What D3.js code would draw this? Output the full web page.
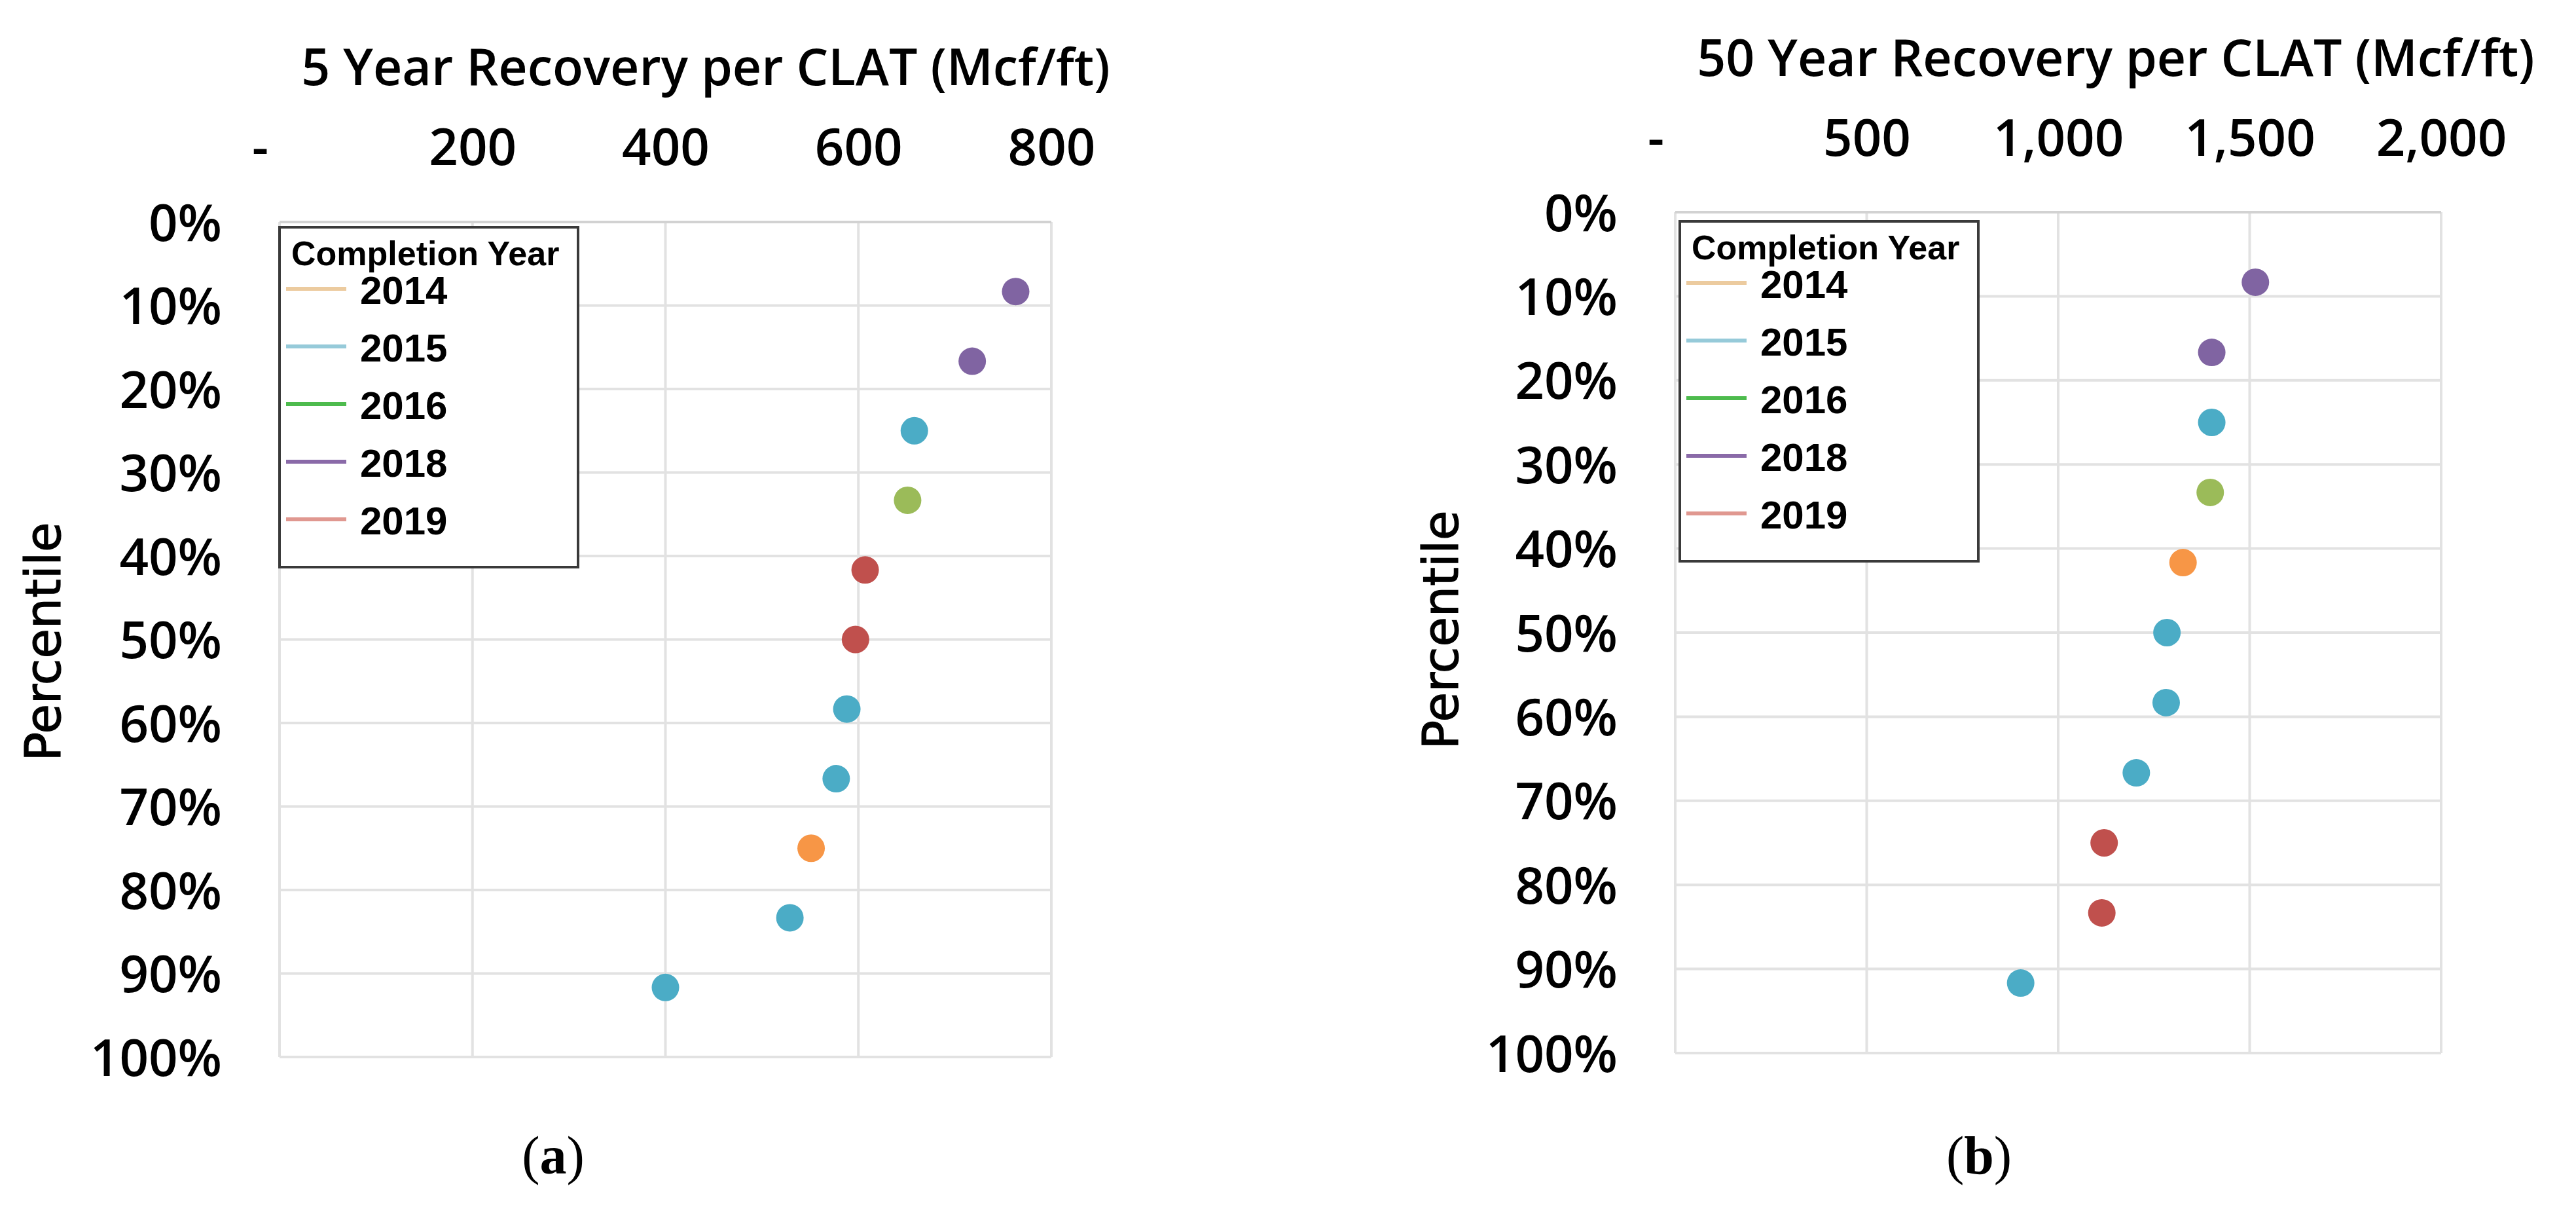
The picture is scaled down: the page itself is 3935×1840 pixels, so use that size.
<!DOCTYPE html>
<html>
<head>
<meta charset="utf-8">
<script src="https://cdn.jsdelivr.net/npm/d3@7"></script>
<style>
  body { margin: 0; background: #fff; }
  svg { display: block; }
</style>
</head>
<body>
<div id="chart"></div>
<script>
// percentile of each well (top axis reads recovery, left axis reads percentile)
const percentiles = [8.33, 16.67, 25, 33.33, 41.67, 50, 58.33, 66.67, 75, 83.33, 91.67];

const years5 = [2018, 2018, 2015, 2016, 2019, 2019, 2015, 2015, 2014, 2015, 2015];
const recovery5 = [763, 718, 658, 651, 607, 597, 588, 577, 551, 529, 400];

const years50 = [2018, 2018, 2015, 2016, 2014, 2015, 2015, 2015, 2019, 2019, 2015];
const recovery50 = [1515, 1401, 1401, 1397, 1326, 1284, 1282, 1204, 1120, 1114, 902];

const legendYears = [2014, 2015, 2016, 2018, 2019];
const xTicks5 = [0, 200, 400, 600, 800];
const xTicks50 = [0, 500, 1000, 1500, 2000];
const yTicks = [0, 10, 20, 30, 40, 50, 60, 70, 80, 90, 100];

const dotColor = {2014: "#f79646", 2015: "#4bacc6", 2016: "#9bbb59", 2018: "#8064a2", 2019: "#c0504d"};
const lineColor = {2014: "#eccb9f", 2015: "#96cad9", 2016: "#4dbb4d", 2018: "#8a6aa8", 2019: "#e09890"};

const W = 3935, H = 1840;

const svg = d3.select("#chart")
  .append("svg")
  .attr("width", W)
  .attr("height", H);

svg.append("rect").attr("width", W).attr("height", H).attr("fill", "#fff");

function drawPanel(p) {
  const g = svg.append("g");

  const x = d3.scaleLinear().domain(p.xDomain).range([p.left, p.right]);
  const y = d3.scaleLinear().domain([0, 100]).range([p.top, p.bottom]);

  // grid
  g.append("g").selectAll("line.v")
    .data(p.xTicks)
    .enter()
    .append("line")
    .attr("x1", d => x(d)).attr("x2", d => x(d))
    .attr("y1", p.top).attr("y2", p.bottom)
    .attr("stroke", "#e2e2e2")
    .attr("stroke-width", 4);

  g.append("g").selectAll("line.h")
    .data(yTicks)
    .enter()
    .append("line")
    .attr("x1", p.left).attr("x2", p.right)
    .attr("y1", d => y(d)).attr("y2", d => y(d))
    .attr("stroke", d => d === 0 ? "#d2d2d2" : "#e2e2e2")
    .attr("stroke-width", 4);

  // axes (labels only)
  const xAxis = d3.axisTop(x)
    .tickValues(p.xTicks)
    .tickSize(0)
    .tickPadding(p.xPad)
    .tickFormat(d => d === 0 ? "-" : d3.format(",")(d));

  const gx = g.append("g")
    .attr("transform", `translate(0, ${p.top})`)
    .call(xAxis);
  gx.select(".domain").remove();
  gx.selectAll("text")
    .attr("font-family", "'Open Sans', sans-serif")
    .attr("font-weight", 600)
    .attr("font-size", 78)
    .attr("fill", "#000")
    .attr("dx", d => d === 0 ? -30 : 0);

  const yAxis = d3.axisLeft(y)
    .tickValues(yTicks)
    .tickSize(0)
    .tickPadding(88)
    .tickFormat(d => d + "%");

  const gy = g.append("g")
    .attr("transform", `translate(${p.left}, 0)`)
    .call(yAxis);
  gy.select(".domain").remove();
  gy.selectAll("text")
    .attr("font-family", "'Open Sans', sans-serif")
    .attr("font-weight", 600)
    .attr("font-size", 78)
    .attr("fill", "#000")
    .attr("dy", "0.36em");

  // axis titles
  g.append("text")
    .attr("x", p.titleX)
    .attr("y", p.titleY)
    .attr("text-anchor", "middle")
    .attr("font-family", "'Open Sans', sans-serif")
    .attr("font-weight", 600)
    .attr("font-size", 77)
    .attr("fill", "#000")
    .text(p.title);

  g.append("text")
    .attr("transform", `translate(${p.yTitleX}, ${p.yTitleY}) rotate(-90)`)
    .attr("text-anchor", "middle")
    .attr("font-family", "'DejaVu Sans', sans-serif")
    .attr("font-size", 74)
    .attr("fill", "#000")
    .attr("stroke", "#000")
    .attr("stroke-width", 1.2)
    .text("Percentile");

  // points
  const pts = p.values.map((v, i) => ({v: v, pct: percentiles[i], year: p.years[i]}));
  g.append("g").selectAll("circle")
    .data(pts)
    .enter()
    .append("circle")
    .attr("cx", d => x(d.v))
    .attr("cy", d => y(d.pct))
    .attr("r", 21)
    .attr("fill", d => dotColor[d.year]);

  // legend
  const lg = g.append("g")
    .attr("transform", `translate(${p.left + p.legendDx}, ${p.top + p.legendDy})`);

  lg.append("rect")
    .attr("width", 456)
    .attr("height", 519)
    .attr("fill", "#fff")
    .attr("stroke", "#3a3a3a")
    .attr("stroke-width", 4);

  lg.append("text")
    .attr("x", 18)
    .attr("y", 58)
    .attr("font-family", "'Liberation Sans', Arial, sans-serif")
    .attr("font-weight", "bold")
    .attr("font-size", 52)
    .attr("fill", "#000")
    .text("Completion Year");

  const items = lg.selectAll("g.item")
    .data(legendYears)
    .enter()
    .append("g")
    .attr("transform", (d, i) => `translate(0, ${117 + i * 88})`);

  items.append("line")
    .attr("x1", 10).attr("x2", 102)
    .attr("y1", -23).attr("y2", -23)
    .attr("stroke", d => lineColor[d])
    .attr("stroke-width", 6);

  items.append("text")
    .attr("x", 123)
    .attr("y", 0)
    .attr("font-family", "'Liberation Sans', Arial, sans-serif")
    .attr("font-weight", "bold")
    .attr("font-size", 60)
    .attr("fill", "#000")
    .text(d => d);

  // caption
  const cap = g.append("text")
    .attr("x", p.capX)
    .attr("y", 1792)
    .attr("text-anchor", "middle")
    .attr("font-family", "'Liberation Serif', 'Times New Roman', serif")
    .attr("font-size", 82)
    .attr("fill", "#000");
  cap.append("tspan").text("(");
  cap.append("tspan").attr("font-weight", "bold").text(p.capLetter);
  cap.append("tspan").text(")");
}

drawPanel({
  left: 427, right: 1606, top: 339, bottom: 1614,
  xDomain: [0, 800], xTicks: xTicks5, xPad: 87,
  values: recovery5, years: years5,
  title: "5 Year Recovery per CLAT (Mcf/ft)", titleX: 1078, titleY: 130,
  yTitleX: 92, yTitleY: 980,
  legendDx: 0, legendDy: 8,
  capX: 845, capLetter: "a"
});

drawPanel({
  left: 2559, right: 3729, top: 324, bottom: 1608,
  xDomain: [0, 2000], xTicks: xTicks50, xPad: 86,
  values: recovery50, years: years50,
  title: "50 Year Recovery per CLAT (Mcf/ft)", titleX: 3232, titleY: 116,
  yTitleX: 2227, yTitleY: 962,
  legendDx: 7, legendDy: 14,
  capX: 3023, capLetter: "b"
});
</script>
</body>
</html>
